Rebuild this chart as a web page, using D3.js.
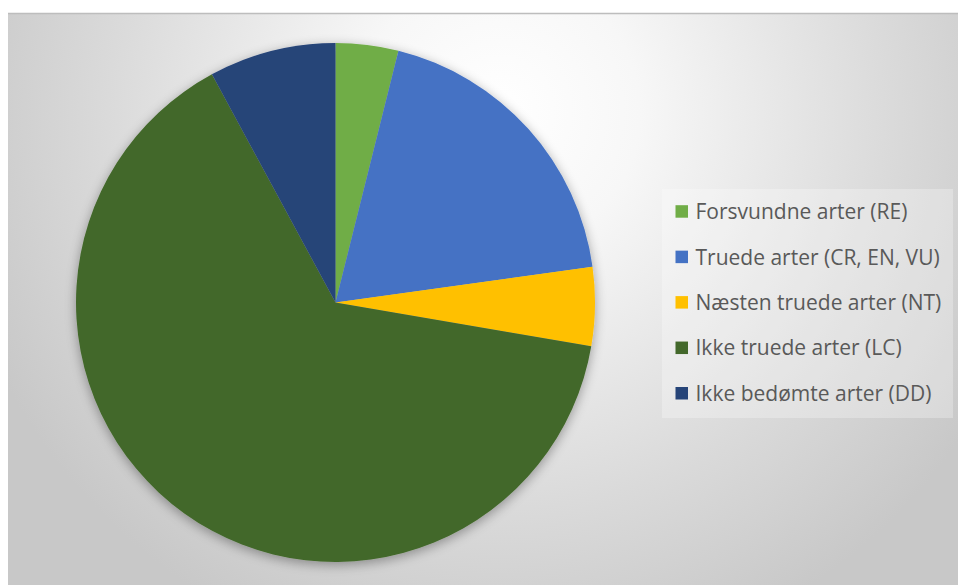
<!DOCTYPE html>
<html>
<head>
<meta charset="utf-8">
<script src="https://cdn.jsdelivr.net/npm/d3@7"></script>
<style>
  html, body { margin: 0; padding: 0; background: #ffffff; }
  svg { display: block; }
</style>
</head>
<body>
<svg id="chart" width="958" height="585"></svg>
<script>
// Rødlistevurdering: andel af arter pr. kategori (%)
const categories = [
  "Forsvundne arter (RE)",
  "Truede arter (CR, EN, VU)",
  "Næsten truede arter (NT)",
  "Ikke truede arter (LC)",
  "Ikke bedømte arter (DD)"
];
const shares = [3.9, 18.9, 4.9, 64.4, 7.9];
const colors = ["#70ad47", "#4472c4", "#ffc000", "#43682b", "#264478"];

const W = 958, H = 585;
const svg = d3.select("#chart");
const defs = svg.append("defs");

// chart-area background: soft radial gradient, light at the top centre
const bg = defs.append("radialGradient")
  .attr("id", "bgGrad")
  .attr("gradientUnits", "userSpaceOnUse")
  .attr("cx", 500).attr("cy", 120).attr("r", 560)
  .attr("fx", 500).attr("fy", 110);
bg.append("stop").attr("offset", 0).attr("stop-color", "#ffffff");
bg.append("stop").attr("offset", 0.25).attr("stop-color", "#f7f7f7");
bg.append("stop").attr("offset", 0.7).attr("stop-color", "#dadada");
bg.append("stop").attr("offset", 1).attr("stop-color", "#c8c8c8");

// soft outer shadow for the pie
const sh = defs.append("filter").attr("id", "pieShadow")
  .attr("x", "-20%").attr("y", "-20%").attr("width", "140%").attr("height", "140%");
sh.append("feGaussianBlur").attr("in", "SourceAlpha").attr("stdDeviation", 6).attr("result", "b");
sh.append("feOffset").attr("in", "b").attr("dx", 0).attr("dy", 3).attr("result", "o");
sh.append("feComponentTransfer").attr("in", "o").attr("result", "s")
  .append("feFuncA").attr("type", "linear").attr("slope", 0.35);
const mg = sh.append("feMerge");
mg.append("feMergeNode").attr("in", "s");
mg.append("feMergeNode").attr("in", "SourceGraphic");

// chart area
const area = { x: 8, y: 14, w: W - 8, h: H - 14 };
svg.append("rect")
  .attr("x", area.x).attr("y", area.y)
  .attr("width", area.w).attr("height", area.h)
  .attr("fill", "url(#bgGrad)");
svg.append("line")
  .attr("x1", area.x).attr("x2", W)
  .attr("y1", area.y - 0.5).attr("y2", area.y - 0.5)
  .attr("stroke", "#bdbdbd").attr("stroke-width", 1.5);

// pie
const cx = 335.5, cy = 302.5, R = 259.5;
const pie = d3.pie().sort(null).value(d => d);
const arc = d3.arc().innerRadius(0).outerRadius(R);
const color = d3.scaleOrdinal().domain(categories).range(colors);

const g = svg.append("g")
  .attr("transform", `translate(${cx},${cy})`)
  .attr("filter", "url(#pieShadow)");
g.selectAll("path")
  .data(pie(shares))
  .join("path")
  .attr("d", arc)
  .attr("fill", (d, i) => color(categories[i]));

// legend
const legendBox = { x: 662, y: 189, w: 291, h: 229 };
svg.append("rect")
  .attr("x", legendBox.x).attr("y", legendBox.y)
  .attr("width", legendBox.w).attr("height", legendBox.h)
  .attr("fill", "#ffffff").attr("fill-opacity", 0.28);

const ly = d3.scalePoint().domain(categories).range([211.7, 393.5]);
const lg = svg.append("g").attr("font-family", "'Open Sans', 'Noto Sans', sans-serif");
const rows = lg.selectAll("g.row").data(categories).join("g")
  .attr("class", "row")
  .attr("transform", d => `translate(0,${ly(d)})`);
rows.append("rect")
  .attr("x", 675.5).attr("y", -6.5)
  .attr("width", 12.5).attr("height", 12.5)
  .attr("fill", d => color(d));
const texts = rows.append("text")
  .attr("x", 695.5).attr("y", 0)
  .attr("dy", "0.35em")
  .attr("fill", "#595959")
  .attr("font-size", 18)
  .text(d => d);

// size the legend text so the first entry spans its measured width
const w0 = texts.nodes()[0].getComputedTextLength();
const fs = 18 * 212 / w0;
texts.attr("font-size", fs);
</script>
</body>
</html>
